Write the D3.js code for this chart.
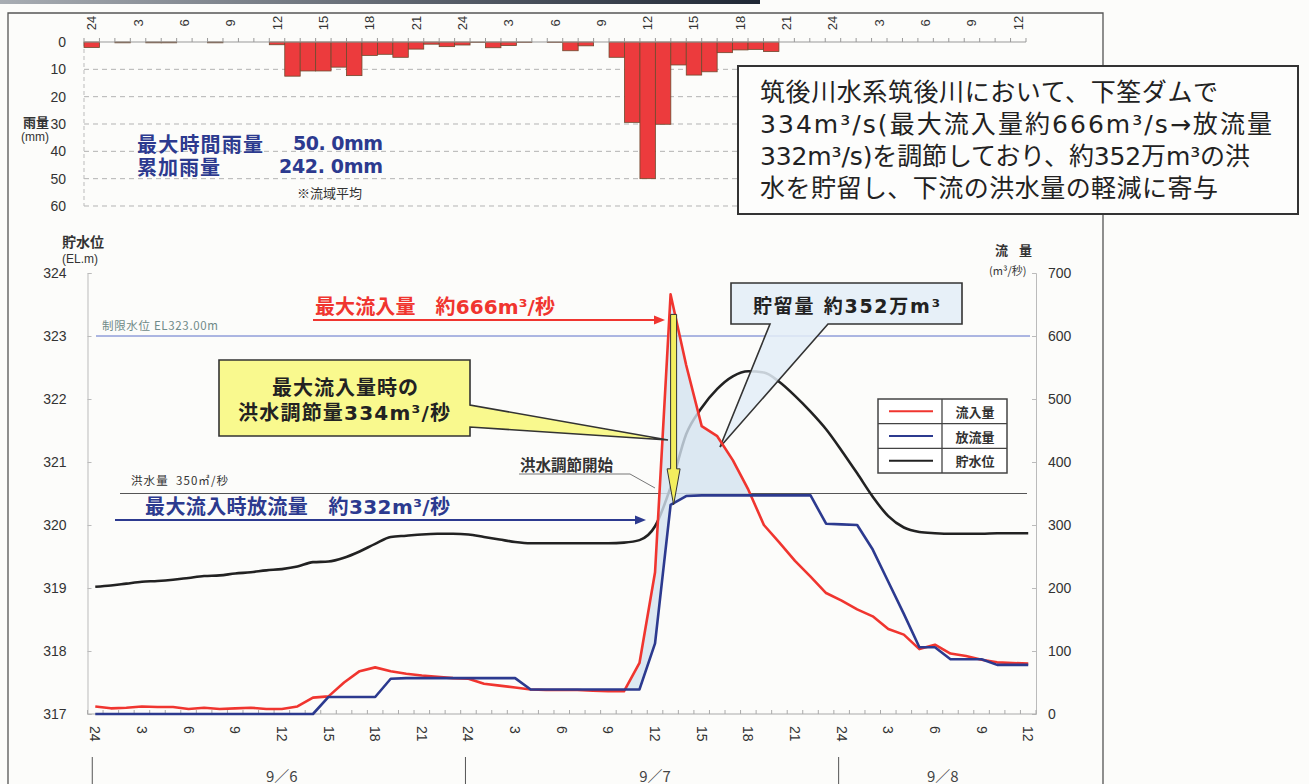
<!DOCTYPE html>
<html><head><meta charset="utf-8">
<script src="https://cdn.jsdelivr.net/npm/d3@7"></script>
<style>
html,body{margin:0;padding:0;background:#fcfcfa;}
svg{display:block;}
text{white-space:pre;}
</style></head><body>
<svg id="chart" width="1309" height="784"></svg>
<script>
// Hourly series, hour 0 = 9/6 0:00 (shown as "24"), hour 60 = 9/8 12:00
const hours = d3.range(0, 61);

// basin-average hourly rainfall (mm)
const rainfall = [2.0, 0, 0.3, 0, 0.3, 0.3, 0, 0, 0.3, 0, 0, 0, 1.0, 12.5, 10.6, 10.6, 9.2, 12.3, 4.9, 4.5,
  5.6, 2.6, 0.8, 1.7, 1.1, 0.2, 2.1, 1.3, 0.2, 0, 0.2, 3.2, 1.4, 0, 5.6, 29.4, 50.0, 30.1, 8.4, 12.1,
  10.9, 3.9, 2.9, 2.7, 3.5, 0, 0, 0, 0, 0, 0, 0, 0, 0, 0, 0, 0, 0, 0, 0, 0];

// inflow (m3/s)
const inflow = [12, 9, 10, 12, 11, 11, 8, 10, 8, 9, 10, 8, 8, 12, 26, 28, 50, 68, 74, 68,
  64, 61, 59, 57, 56, 48, 45, 42, 39, 38, 38, 38, 37, 36, 36, 81, 225, 666, 554, 457,
  441, 403, 356, 300, 272, 243, 218, 192, 180, 166, 155, 135, 126, 103, 110, 96, 92, 86, 82, 81, 80];

// outflow (m3/s)
const outflow = [0, 0, 0, 0, 0, 0, 0, 0, 0, 0, 0, 0, 0, 0, 0, 27, 27, 27, 27, 56,
  57, 57, 57, 57, 57, 57, 57, 57, 39, 39, 39, 39, 39, 39, 39, 39, 112, 332, 346, 347,
  347, 347, 347, 347, 347, 347, 347, 302, 301, 300, 261, 210, 159, 106, 106, 87, 87, 87, 78, 78, 78];

// reservoir water level (EL.m)
const waterLevel = [319.02, 319.04, 319.07, 319.10, 319.11, 319.13, 319.16, 319.19, 319.20, 319.23,
  319.25, 319.28, 319.30, 319.34, 319.41, 319.42, 319.48, 319.58, 319.70, 319.81,
  319.83, 319.85, 319.86, 319.86, 319.85, 319.81, 319.77, 319.73, 319.71, 319.71,
  319.71, 319.71, 319.71, 319.71, 319.72, 319.76, 319.98, 320.60, 321.44, 321.86,
  322.16, 322.36, 322.44, 322.42, 322.27, 322.05, 321.80, 321.52, 321.18, 320.82,
  320.45, 320.14, 319.96, 319.89, 319.87, 319.86, 319.86, 319.86, 319.87, 319.87, 319.87];

const hourTickHours = d3.range(0, 61, 3);
const hourTickLabels = ["24","3","6","9","12","15","18","21","24","3","6","9","12","15","18","21","24","3","6","9","12"];
const rainTicks = [0, 10, 20, 30, 40, 50, 60];
const levelTicks = [317, 318, 319, 320, 321, 322, 323, 324];
const flowTicks = [0, 100, 200, 300, 400, 500, 600, 700];
const dayLabels = ["9／6", "9／7", "9／8"];
const dayStartHours = [0, 24, 48];
const dayCenterHours = [12, 36, 54.5];
const legendLabels = ["流入量", "放流量", "貯水位"];
const summaryLines = [
  "筑後川水系筑後川において、下筌ダムで",
  "334m³/s(最大流入量約666m³/s→放流量",
  "332m³/s)を調節しており、約352万m³の洪",
  "水を貯留し、下流の洪水量の軽減に寄与"
];
const summaryWidths = [458, 512, 490, 458];
const limitLevel = 323.0;
const floodFlow = 350;
const peakInflow = 666;
const outflowAtPeak = 332;
const controlFrom = 34, controlTo = 43;

const JP = "'Noto Sans CJK JP', 'Noto Sans', sans-serif";
const JPW = "'DejaVu Sans', 'Noto Sans CJK JP', sans-serif"; // wide Latin digits, CJK fallback
const NUM = "'Liberation Sans', Arial, sans-serif";
const RED = "#f0352f", NAVY = "#2c3a8f", BLACK = "#222";

const svg = d3.select("#chart");

// scales
const xTop = d3.scaleLinear().domain([-0.5, 60.5]).range([84, 1026]);
const yRain = d3.scaleLinear().domain([0, 60]).range([42, 206]);
const xBot = d3.scaleLinear().domain([-0.5, 60.5]).range([87.5, 1036]);
const yLevel = d3.scaleLinear().domain([317, 324]).range([714, 273]);
const yFlow = d3.scaleLinear().domain([0, 700]).range([714, 273]);

svg.append("rect").attr("width", 1309).attr("height", 784).attr("fill", "#fcfcfa");

// heading strip edge at the very top
const grad = svg.append("defs").append("linearGradient").attr("id", "strip");
grad.append("stop").attr("offset", "0%").attr("stop-color", "#a8adb3");
grad.append("stop").attr("offset", "100%").attr("stop-color", "#1f2734");
svg.append("rect").attr("x", 0).attr("y", 0).attr("width", 760).attr("height", 4).attr("fill", "url(#strip)");

// outer frame
svg.append("path").attr("d", "M8,784 V13 H1103 V784").attr("fill", "none").attr("stroke", "#555").attr("stroke-width", 1.3);

// helper for a text element with optional fitted width
function label(g, x, y, txt, o = {}) {
  const t = g.append("text").attr("x", x).attr("y", y).attr("dominant-baseline", "central")
    .attr("font-family", o.family || JP).attr("font-size", o.size || 13).attr("fill", o.fill || "#333")
    .attr("text-anchor", o.anchor || "start").text(txt);
  if (o.bold) t.attr("font-weight", "bold");
  if (o.width) t.attr("textLength", o.width).attr("lengthAdjust", "spacing");
  return t;
}

// ===== rainfall hyetograph =====
const rainG = svg.append("g");
rainG.selectAll("line.grid").data(rainTicks.filter(d => d > 0)).join("line")
  .attr("x1", xTop.range()[0]).attr("x2", xTop.range()[1])
  .attr("y1", d => yRain(d)).attr("y2", d => yRain(d))
  .attr("stroke", "#b3b3b3").attr("stroke-dasharray", "5,4");
rainG.append("line").attr("x1", xTop.range()[0]).attr("x2", xTop.range()[0])
  .attr("y1", yRain(0)).attr("y2", yRain(60)).attr("stroke", "#bbb").attr("stroke-dasharray", "4,3");

const step = xTop(1) - xTop(0);
rainG.selectAll("rect.bar").data(hours.filter(h => rainfall[h] > 0)).join("rect")
  .attr("x", h => xTop(h) - step / 2).attr("width", step)
  .attr("y", yRain(0)).attr("height", h => yRain(rainfall[h]) - yRain(0))
  .attr("fill", "#ec3b3d").attr("stroke", "#6e4a2e").attr("stroke-width", 0.8);

rainG.append("line").attr("x1", xTop.range()[0]).attr("x2", xTop.range()[1])
  .attr("y1", yRain(0)).attr("y2", yRain(0)).attr("stroke", "#999");
rainG.selectAll("line.tk").data(d3.range(-0.5, 61, 1)).join("line")
  .attr("x1", d => xTop(d)).attr("x2", d => xTop(d))
  .attr("y1", yRain(0)).attr("y2", yRain(0) - 4).attr("stroke", "#999");
rainG.selectAll("text.xl").data(hourTickHours).join("text")
  .attr("transform", (h) => `translate(${xTop(h)},23) rotate(-90)`)
  .attr("text-anchor", "middle").attr("dominant-baseline", "central")
  .attr("font-family", NUM).attr("font-size", 13).attr("fill", "#333")
  .text((h, i) => hourTickLabels[i]);
rainG.selectAll("text.yl").data(rainTicks).join("text")
  .attr("x", 66).attr("y", d => yRain(d)).attr("text-anchor", "end").attr("dominant-baseline", "central")
  .attr("font-family", NUM).attr("font-size", 14).attr("fill", "#333").text(d => d);
label(rainG, 23, 121, "雨量", { bold: true, size: 13 });
label(rainG, 21, 137, "(mm)", { family: NUM, size: 12 });

label(rainG, 137, 143, "最大時間雨量", { bold: true, size: 20, fill: NAVY, width: 126 });
label(rainG, 293, 143, "50. 0mm", { bold: true, size: 19, fill: NAVY, family: JPW, width: 90 });
label(rainG, 137, 166, "累加雨量", { bold: true, size: 20, fill: NAVY, width: 83 });
label(rainG, 279, 166, "242. 0mm", { bold: true, size: 19, fill: NAVY, family: JPW, width: 104 });
label(rainG, 297, 192, "※流域平均", { size: 13 });

// summary box
svg.append("rect").attr("x", 738).attr("y", 66).attr("width", 560).attr("height", 148)
  .attr("fill", "#fdfdfc").attr("stroke", "#333").attr("stroke-width", 2);
summaryLines.forEach((s, i) => label(svg, 760, 92 + i * 32, s, { size: 25, fill: "#222", family: JPW, width: summaryWidths[i] }));

// ===== hydrograph =====
const hydroG = svg.append("g");
// axes
const leftAxis = d3.axisLeft(yLevel).tickValues(levelTicks).tickSize(-4).tickPadding(21).tickFormat(d3.format("d"));
hydroG.append("g").attr("transform", `translate(${xBot.range()[0]},0)`).call(leftAxis)
  .call(g => { g.select(".domain").attr("stroke", "#bbb"); g.selectAll(".tick line").attr("stroke", "#bbb");
    g.selectAll("text").attr("font-family", NUM).attr("font-size", 14).attr("fill", "#333"); });
const rightAxis = d3.axisRight(yFlow).tickValues(flowTicks).tickSize(-4).tickPadding(12).tickFormat(d3.format("d"));
hydroG.append("g").attr("transform", `translate(${xBot.range()[1]},0)`).call(rightAxis)
  .call(g => { g.select(".domain").attr("stroke", "#bbb"); g.selectAll(".tick line").attr("stroke", "#bbb");
    g.selectAll("text").attr("font-family", NUM).attr("font-size", 14).attr("fill", "#333"); });

hydroG.append("line").attr("x1", xBot.range()[0]).attr("x2", xBot.range()[1])
  .attr("y1", yFlow(0)).attr("y2", yFlow(0)).attr("stroke", "#aaa");
hydroG.selectAll("line.tk").data(d3.range(-0.5, 61, 1)).join("line")
  .attr("x1", d => xBot(d)).attr("x2", d => xBot(d))
  .attr("y1", yFlow(0)).attr("y2", yFlow(0) - 4).attr("stroke", "#aaa");
hydroG.selectAll("text.xl").data(hourTickHours).join("text")
  .attr("transform", h => `translate(${xBot(h)},726) rotate(90)`)
  .attr("text-anchor", "start").attr("dominant-baseline", "central")
  .attr("font-family", NUM).attr("font-size", 14).attr("fill", "#333")
  .text((h, i) => hourTickLabels[i]);

// axis titles
label(hydroG, 62, 241, "貯水位", { bold: true, size: 14, width: 42 });
label(hydroG, 62, 259, "(EL.m)", { family: NUM, size: 12 });
label(hydroG, 995, 249, "流 量", { bold: true, size: 13, width: 37 });
label(hydroG, 989, 270, "(m³/秒)", { size: 11 });

// reference levels
hydroG.append("line").attr("x1", 96).attr("x2", 1030).attr("y1", yLevel(limitLevel)).attr("y2", yLevel(limitLevel))
  .attr("stroke", "#4a60c4").attr("stroke-width", 0.9);
label(hydroG, 102, yLevel(limitLevel) - 11, "制限水位 EL323.00m", { size: 11.5, fill: "#6f8a88", width: 116 });
hydroG.append("line").attr("x1", 120).attr("x2", 1027).attr("y1", yFlow(floodFlow)).attr("y2", yFlow(floodFlow))
  .attr("stroke", "#555").attr("stroke-width", 1);
label(hydroG, 131, yFlow(floodFlow) - 14, "洪水量  350㎥/秒", { size: 11.5, width: 97 });

// water level line
const levelLine = d3.line().x(h => xBot(h)).y(h => yLevel(waterLevel[h])).curve(d3.curveMonotoneX);
hydroG.append("path").attr("d", levelLine(hours)).attr("fill", "none").attr("stroke", BLACK).attr("stroke-width", 2.6);

// storage volume: inflow above outflow during flood control
const storePts = [];
for (let h = controlFrom; h <= controlTo; h++) {
  const d = inflow[h] - outflow[h];
  if (h > controlFrom) {
    const dp = inflow[h - 1] - outflow[h - 1];
    if ((dp < 0) !== (d < 0)) {
      const t = dp / (dp - d);
      const q = outflow[h - 1] + t * (outflow[h] - outflow[h - 1]);
      storePts.push({ h: h - 1 + t, top: q, bot: q });
    }
  }
  if (d >= 0) storePts.push({ h, top: inflow[h], bot: outflow[h] });
}
const storeArea = d3.area().x(d => xBot(d.h)).y0(d => yFlow(d.bot)).y1(d => yFlow(d.top));
hydroG.append("path").attr("d", storeArea(storePts)).attr("fill", "#d3e2f0").attr("opacity", 0.8);

// storage callout
hydroG.append("path").attr("d", "M731,283 H962 V324 H828 L720,447 L770,324 H731 Z")
  .attr("fill", "#e3edf7").attr("fill-opacity", 0.85).attr("stroke", "#333").attr("stroke-width", 1.6);
label(hydroG, 753, 306, "貯留量 約352万m³", { bold: true, size: 19, fill: "#222", family: JPW, width: 187 });

// inflow / outflow lines
const flowLine = arr => d3.line().x(h => xBot(h)).y(h => yFlow(arr[h]))(hours);
hydroG.append("path").attr("d", flowLine(inflow)).attr("fill", "none").attr("stroke", RED).attr("stroke-width", 2.6).attr("stroke-linejoin", "round");
hydroG.append("path").attr("d", flowLine(outflow)).attr("fill", "none").attr("stroke", NAVY).attr("stroke-width", 2.6).attr("stroke-linejoin", "round");

// peak hour
const peakHour = inflow.indexOf(peakInflow);

// yellow callout: control amount at peak inflow
hydroG.append("path").attr("d", "M219,360 H470 V405 L668,440 L470,427 V436 H219 Z")
  .attr("fill", "#f9f98e").attr("stroke", "#333").attr("stroke-width", 1.6);
label(hydroG, 272, 386, "最大流入量時の", { bold: true, size: 20, fill: "#222", width: 146 });
label(hydroG, 238, 413, "洪水調節量334m³/秒", { bold: true, size: 20, fill: "#222", family: JPW, width: 212 });

// yellow arrow from peak inflow down to outflow
const ax = xBot(peakHour) + 3;
const aTop = yFlow(peakInflow) + 20, aTip = yFlow(outflowAtPeak), aHead = aTip - 36;
hydroG.append("path").attr("d", `M${ax - 3},${aTop} H${ax + 3} V${aHead} H${ax + 6.5} L${ax},${aTip} L${ax - 6.5},${aHead} H${ax - 3} Z`)
  .attr("fill", "#f3ee5e").attr("stroke", "#333").attr("stroke-width", 1);

// red annotation
label(hydroG, 315, 307, "最大流入量\u3000約666m³/秒", { bold: true, size: 20, fill: RED, family: JPW, width: 240 });
hydroG.append("line").attr("x1", 313).attr("x2", 656).attr("y1", 320).attr("y2", 320).attr("stroke", RED).attr("stroke-width", 2);
hydroG.append("path").attr("d", "M665,320 L654,315.5 L654,324.5 Z").attr("fill", RED);

// blue annotation
label(hydroG, 145, 507, "最大流入時放流量\u3000約332m³/秒", { bold: true, size: 20, fill: NAVY, family: JPW, width: 305 });
hydroG.append("line").attr("x1", 115).attr("x2", 637).attr("y1", 520).attr("y2", 520).attr("stroke", NAVY).attr("stroke-width", 2);
hydroG.append("path").attr("d", "M646,520 L635,515.5 L635,524.5 Z").attr("fill", NAVY);

// flood control start
label(hydroG, 520, 464, "洪水調節開始", { bold: true, size: 15.5 });
hydroG.append("path").attr("d", "M519,474 H630 L655,488").attr("fill", "none").attr("stroke", "#777").attr("stroke-width", 1);

// legend
const lg = hydroG.append("g").attr("transform", "translate(878,399)");
lg.append("rect").attr("width", 129).attr("height", 74).attr("fill", "#fff").attr("stroke", "#444").attr("stroke-width", 1.5);
[24.7, 49.3].forEach(y => lg.append("line").attr("x1", 0).attr("x2", 129).attr("y1", y).attr("y2", y).attr("stroke", "#444").attr("stroke-width", 1.3));
lg.append("line").attr("x1", 64).attr("x2", 64).attr("y1", 0).attr("y2", 74).attr("stroke", "#444").attr("stroke-width", 1.3);
const lgColors = [RED, NAVY, BLACK];
legendLabels.forEach((t, i) => {
  const cy = 12.3 + i * 24.7;
  lg.append("line").attr("x1", 11).attr("x2", 55).attr("y1", cy).attr("y2", cy).attr("stroke", lgColors[i]).attr("stroke-width", 2);
  label(lg, 97, cy, t, { bold: true, size: 13, anchor: "middle" });
});

// date row
hydroG.selectAll("line.day").data(dayStartHours).join("line")
  .attr("x1", h => xBot(h) - 3).attr("x2", h => xBot(h) - 3).attr("y1", 757).attr("y2", 784)
  .attr("stroke", "#555").attr("stroke-width", 1);
dayLabels.forEach((d, i) => label(hydroG, xBot(dayCenterHours[i]), 775, d, { size: 15, fill: "#444", anchor: "middle" }));
</script>
</body></html>
